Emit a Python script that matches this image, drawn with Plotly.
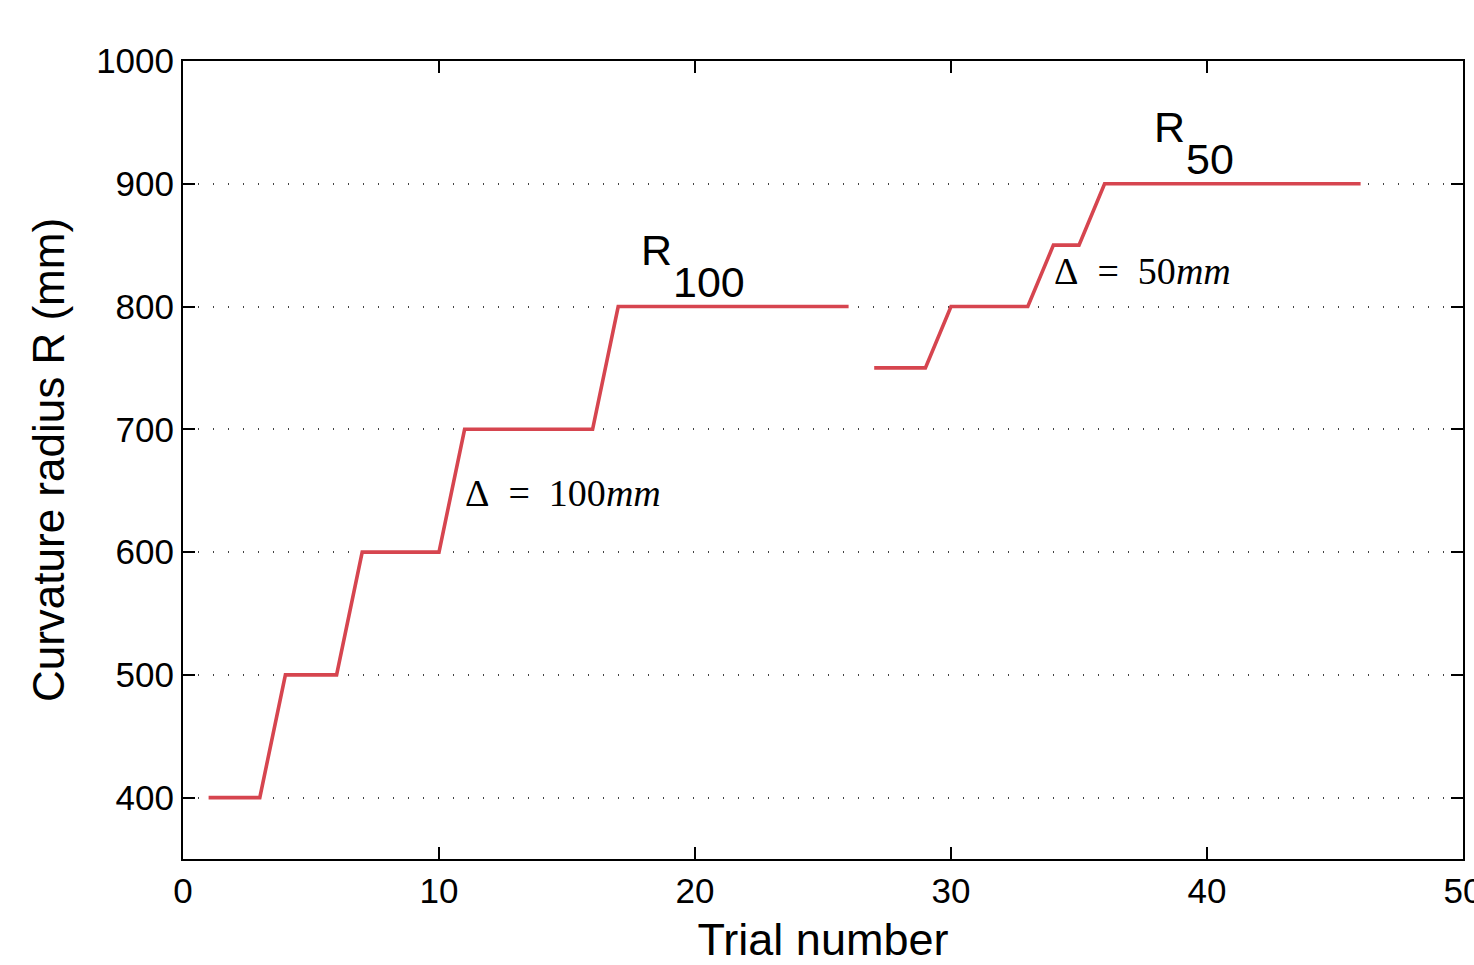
import plotly.graph_objects as go

# Data
trials_r100 = list(range(1, 27))
radius_r100 = [400, 400, 400, 500, 500, 500, 600, 600, 600, 600,
               700, 700, 700, 700, 700, 700, 800, 800, 800, 800,
               800, 800, 800, 800, 800, 800]
trials_r50 = list(range(27, 47))
radius_r50 = [750, 750, 750, 800, 800, 800, 800, 850, 850, 900,
              900, 900, 900, 900, 900, 900, 900, 900, 900, 900]

x_ticks = [0, 10, 20, 30, 40, 50]
y_ticks = [400, 500, 600, 700, 800, 900, 1000]

line_color = "#d6454f"
sans = "Liberation Sans, Arial, sans-serif"
serif = "Liberation Serif, Times New Roman, serif"

fig = go.Figure()
fig.add_trace(go.Scatter(x=trials_r100, y=radius_r100, mode="lines",
                         line=dict(color=line_color, width=3.6), showlegend=False))
fig.add_trace(go.Scatter(x=trials_r50, y=radius_r50, mode="lines",
                         line=dict(color=line_color, width=3.6), showlegend=False))

big = dict(family=sans, size=43, color="black")
math = dict(family=serif, size=38, color="black")
sp = "\u2002"
annos = [
    dict(x=17.82, y=846, text="R", font=big),
    dict(x=19.07, y=820, text="100", font=big),
    dict(x=37.87, y=946, text="R", font=big),
    dict(x=39.1, y=920, text="50", font=big),
    dict(x=10.94, y=648, text=f"Δ{sp}={sp}100<i>mm</i>", font=math),
    dict(x=33.95, y=829, text=f"Δ{sp}={sp}50<i>mm</i>", font=math),
]
for a in annos:
    fig.add_annotation(xref="x", yref="y", xanchor="left", yanchor="middle",
                       showarrow=False, **a)

axis_common = dict(showline=True, linecolor="black", linewidth=2, mirror="ticks",
                   ticks="inside", ticklen=12, tickwidth=1.5, tickcolor="black",
                   tickfont=dict(family=sans, size=35, color="black"),
                   ticklabeloverflow="allow",
                   zeroline=False, automargin=False)

fig.update_xaxes(range=[0, 50], tickvals=x_ticks, showgrid=False,
                 title=dict(text="Trial number", font=dict(family=sans, size=45, color="black"),
                            standoff=20),
                 **axis_common)
fig.update_yaxes(range=[350, 1000], tickvals=y_ticks, showgrid=True,
                 gridcolor="#444444", gridwidth=1.5, griddash="1px,14px",
                 title=dict(text="Curvature radius R (mm)",
                            font=dict(family=sans, size=44, color="black"), standoff=18),
                 **axis_common)

fig.update_layout(width=1474, height=965, plot_bgcolor="white", paper_bgcolor="white",
                  margin=dict(l=183, r=11, t=61, b=106))

fig.write_html("out.html")
